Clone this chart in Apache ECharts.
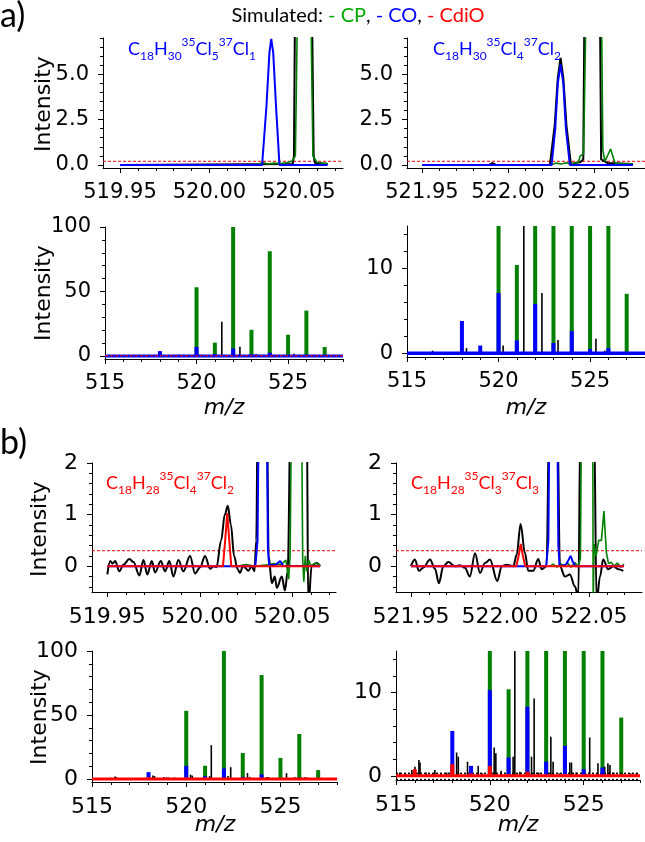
<!DOCTYPE html>
<html><head><meta charset="utf-8">
<script src="https://cdn.jsdelivr.net/npm/echarts@6/dist/echarts.min.js"></script>
<style>html,body{margin:0;padding:0;background:#fff}#c{width:645px;height:842px}</style>
</head><body><div id="c"></div>
<script>
// ---------- tick labels ----------
const xTopLeftMajor = [519.95, 520.00, 520.05];
const xTopLeftMinor = [519.95,519.96,519.97,519.98,519.99,520.00,520.01,520.02,520.03,520.04,520.05,520.06,520.07];
const xTopRightMajor = [521.95, 522.00, 522.05];
const xTopRightMinor = [521.95,521.96,521.97,521.98,521.99,522.00,522.01,522.02,522.03,522.04,522.05,522.06,522.07];
const xBottomMajor = [515, 520, 525];
const xBottomMinor = [515,516,517,518,519,520,521,522,523,524,525,526,527,528];
const yTopAMajor = [0, 2.5, 5];
const yTopAMinor = [0,0.5,1,1.5,2,2.5,3,3.5,4,4.5,5,5.5,6,6.5,7];
const yTopBMajor = [0, 1, 2];
const yTopBMinor = [-0.4,-0.2,0,0.2,0.4,0.6,0.8,1,1.2,1.4,1.6,1.8,2];
const yFullMajor = [0, 50, 100];
const yFullMinor = [0,10,20,30,40,50,60,70,80,90,100];
const yZoomMajor = [0, 10];
const yZoomMinor = [0,2,4,6,8,10,12,14];

// ---------- thresholds ----------
const thresholdA = 0.2;
const thresholdB = 0.3;
const noiseBandB = [0.3, -0.45];

// ---------- a) profile traces, window 519.95-520.07 (m/z, intensity) ----------
const aL_measured = [[519.95,0],[520.0465,0.05],[520.0472,0.5],[520.0477,7.5],[520.0525,55],[520.0574,7.5],[520.0582,0.5],[520.059,0.1],[520.066,0.05]];
const aL_CP = [[520.027,0.05],[520.03,0.12],[520.033,0.05],[520.036,0.1],[520.04,0.08],[520.043,0.12],[520.046,0.2],[520.048,0.5],[520.049,7.5],[520.0525,53],[520.0568,7.5],[520.0578,0.5],[520.06,0.15],[520.063,0.1],[520.066,0.08]];
const aL_CO = [[519.95,0],[520.0294,0],[520.0318,3.2],[520.0335,6.2],[520.0345,6.95],[520.0356,6.2],[520.0372,3.2],[520.0391,0],[520.066,0]];

// ---------- a) profile traces, window 521.95-522.07 ----------
const aR_measured = [[521.95,0],[521.989,0],[521.991,0.1],[521.993,0],[522.0244,0],[522.0272,2.2],[522.029,4.8],[522.0306,5.9],[522.0322,4.8],[522.034,2.2],[522.0366,0.05],[522.039,0.1],[522.042,0.15],[522.0438,0.3],[522.0444,7.5],[522.049,100],[522.0536,7.5],[522.0542,0.3],[522.058,0.1],[522.0727,0.05]];
const aR_CP = [[522.025,0],[522.028,0.1],[522.031,0.05],[522.034,0.12],[522.037,0.03],[522.039,0.12],[522.041,0.15],[522.042,0.5],[522.044,0.6],[522.0452,7.5],[522.049,100],[522.0545,7.5],[522.0552,0.8],[522.0564,0.2],[522.0597,0.88],[522.0622,0.1],[522.065,0.08],[522.0727,0.05]];
const aR_CO = [[521.95,0],[522.0254,0],[522.0275,2.0],[522.029,4.5],[522.0306,5.55],[522.0322,4.5],[522.0337,2.0],[522.036,0],[522.0727,0]];

// ---------- a) stick spectra ----------
const cpMz = [520, 521, 522, 523, 524, 525, 526, 527];
const cpInt = [53.3, 10.4, 100, 20.3, 81.2, 16.5, 35.2, 7.0];
const aCoMz = [518, 519, 520, 521, 522, 523, 524, 525, 526];
const aCoInt = [3.8, 0.9, 7.1, 1.5, 5.8, 1.2, 2.6, 0.5, 0.6];
const aMeasMz = [516.4, 518.25, 520.25, 521.38, 522.37, 523.25, 525.32, 525.8];
const aMeasInt = [0.3, 0.6, 0.9, 26.5, 7.1, 1.55, 1.7, 0.3];

// ---------- b) profile traces, window 519.95-520.07 ----------
const bL_measured = [[519.95,-0.16],[519.9515,0.10],[519.9529,0.05],[519.9542,0.10],[519.9565,-0.10],[519.9587,0.03],[519.9619,0.14],[519.9641,0.08],[519.9673,-0.18],[519.9695,0.12],[519.9716,-0.16],[519.974,0.10],[519.9758,-0.12],[519.9789,0.10],[519.9812,-0.10],[519.9835,0.10],[519.9857,-0.20],[519.9884,0.12],[519.9911,-0.10],[519.9947,0.20],[519.9974,-0.14],[520.0002,-0.02],[520.0028,0.20],[520.0055,-0.05],[520.0075,0.0],[520.009,-0.02],[520.0115,0.5],[520.0135,1.0],[520.0151,1.17],[520.0168,0.8],[520.0185,0.2],[520.0203,-0.05],[520.0217,-0.13],[520.0235,0.02],[520.0244,-0.03],[520.0262,-0.09],[520.028,0.0],[520.0295,-0.1],[520.0305,0.5],[520.0313,3],[520.034,8],[520.0362,3],[520.0372,0.2],[520.0389,-0.33],[520.0405,-0.2],[520.0416,-0.42],[520.0443,-0.2],[520.046,-0.47],[520.0475,-0.1],[520.0491,3],[520.0525,55],[520.0578,3],[520.0586,-0.8],[520.0605,0.02],[520.0632,0.06],[520.065,0.0]];
const bL_CP = [[520.02,0.0],[520.025,0.03],[520.03,0.0],[520.035,0.02],[520.04,0.05],[520.044,0.03],[520.0465,0.12],[520.048,-0.25],[520.0488,0.2],[520.0495,3],[520.0523,53],[520.055,3],[520.0556,0.15],[520.0562,-0.3],[520.057,0.2],[520.0578,-0.1],[520.0588,0.12],[520.06,0.0],[520.0625,0.06],[520.065,0.02]];
const bL_CO = [[519.95,0],[520.03,0],[520.0312,0.5],[520.0318,3],[520.034,7],[520.0362,3],[520.0368,0.3],[520.0375,0.02],[520.041,0.03],[520.0434,0.1],[520.045,0.01],[520.065,0]];
const bL_CdiO = [[519.95,0],[520.0125,0],[520.0137,0.5],[520.0148,1.03],[520.0159,0.5],[520.017,0],[520.065,0]];

// ---------- b) profile traces, window 521.95-522.07 ----------
const bR_measured = [[521.95,0.0],[521.9522,0.13],[521.9545,-0.09],[521.9569,-0.03],[521.9607,0.13],[521.9635,-0.05],[521.9657,-0.33],[521.9682,0.0],[521.971,0.08],[521.9747,0.0],[521.9775,0.02],[521.9803,-0.03],[521.9831,-0.2],[521.986,0.25],[521.9888,-0.13],[521.9916,0.06],[521.9944,0.13],[521.9985,-0.29],[522.001,0.0],[522.0038,0.03],[522.0075,0.0],[522.0094,0.22],[522.0116,0.82],[522.014,0.26],[522.0159,-0.09],[522.0187,-0.09],[522.0215,0.14],[522.0234,-0.06],[522.0262,0.0],[522.0277,3],[522.03,6],[522.0322,3],[522.0337,0.0],[522.0365,-0.2],[522.0393,-0.16],[522.0421,-0.39],[522.044,-0.6],[522.0453,3],[522.049,100],[522.0528,3],[522.0543,-0.7],[522.0562,-0.2],[522.058,0.13],[522.0608,-0.06],[522.0637,0.0],[522.0665,-0.06],[522.0693,-0.09]];
const bR_CP = [[522.028,0],[522.03,0.04],[522.032,-0.02],[522.034,0.05],[522.036,0.0],[522.038,0.06],[522.04,-0.02],[522.042,0.07],[522.044,0.0],[522.0452,0.15],[522.0458,3],[522.049,100],[522.0521,3],[522.0524,-0.7],[522.0529,0.43],[522.054,0.2],[522.0555,0.5],[522.057,0.5],[522.0584,1.07],[522.0598,0.26],[522.061,0.05],[522.0625,0.08],[522.064,0.0],[522.066,0.06],[522.068,-0.02],[522.0697,0.04]];
const bR_CO = [[521.95,0],[522.026,0],[522.0272,0.5],[522.0278,3],[522.03,5.7],[522.0322,3],[522.0328,0.4],[522.0335,0.0],[522.037,0.03],[522.0385,0.12],[522.0397,0.2],[522.041,0.08],[522.0425,0.0],[522.0697,0]];
const bR_CdiO = [[521.95,0],[522.0092,0],[522.0105,0.2],[522.0117,0.43],[522.0129,0.2],[522.0142,0],[522.0697,0]];

// ---------- b) stick spectra ----------
const bCoMz = [518, 519, 520, 521, 522, 523, 524, 525, 526];
const bCoInt = [5.4, 1.2, 10.3, 2.2, 8.3, 1.7, 3.6, 0.8, 1.0];
const bCdiOMz = [516, 517, 518, 519, 520, 521, 522, 523, 524];
const bCdiOInt = [0.8, 0.2, 1.4, 0.3, 1.2, 0.2, 0.5, 0.1, 0.2];
const bMeasMz = [515.2, 515.5, 515.84, 516.01, 516.22, 516.28, 516.6, 517.07, 517.4, 517.7, 518.23, 518.32, 518.81, 519.38, 519.6, 520.23, 520.32, 520.6, 521.24, 521.33, 521.6, 522.22, 522.36, 522.6, 523.25, 523.37, 523.7, 524.26, 524.35, 524.6, 525.1, 525.32, 525.76, 526.12, 526.29, 526.4, 526.6, 527.0, 527.5, 527.8];
const bMeasInt = [0.4, 0.3, 0.7, 1.1, 1.9, 1.6, 0.4, 0.7, 0.3, 0.4, 2.8, 2.3, 1.7, 1.2, 0.3, 3.4, 2.7, 0.6, 2.3, 26.5, 0.5, 2.3, 9.3, 0.4, 4.7, 1.7, 0.3, 1.6, 1.6, 0.4, 0.3, 4.6, 1.5, 1.1, 1.5, 1.3, 0.4, 0.3, 0.3, 0.3];

// ---------- colours ----------
const GREEN = '#008000', BLUE = '#0000ff', RED = '#ff0000', BLACK = '#000000';
const TICK_FONT = 'DejaVu Sans';

// ---------- layout ----------
const grids = [
  {left:103, top:38,  width:240, height:130},  // a top-left
  {left:407, top:38,  width:238, height:130},  // a top-right
  {left:105, top:227, width:238, height:132},  // a bottom-left
  {left:407, top:226, width:238, height:131},  // a bottom-right
  {left:92,  top:463, width:244, height:129},  // b top-left
  {left:396, top:463, width:246, height:129},  // b top-right
  {left:92,  top:651, width:245, height:131},  // b bottom-left
  {left:396, top:651, width:244, height:129}   // b bottom-right
];
const axisDefs = [
  {x:[519.9405,520.0746], y:[-0.17,7],   xMaj:xTopLeftMajor,  xMin:xTopLeftMinor,  yMaj:yTopAMajor, yMin:yTopAMinor, xf:v=>v.toFixed(2), yf:v=>v.toFixed(1), fs:21},
  {x:[521.9413,522.0797], y:[-0.17,7],   xMaj:xTopRightMajor, xMin:xTopRightMinor, yMaj:yTopAMajor, yMin:yTopAMinor, xf:v=>v.toFixed(2), yf:v=>v.toFixed(1), fs:21},
  {x:[515,528],           y:[-2.3,100],  xMaj:xBottomMajor,   xMin:xBottomMinor,   yMaj:yFullMajor, yMin:yFullMinor, xf:v=>String(v), yf:v=>String(v), fs:21},
  {x:[515,528],           y:[-0.45,15],  xMaj:xBottomMajor,   xMin:xBottomMinor,   yMaj:yZoomMajor, yMin:yZoomMinor, xf:v=>String(v), yf:v=>String(v), fs:21},
  {x:[519.9417,520.0736], y:[-0.5,2],    xMaj:xTopLeftMajor,  xMin:xTopLeftMinor,  yMaj:yTopBMajor, yMin:yTopBMinor, xf:v=>v.toFixed(2), yf:v=>String(v), fs:22},
  {x:[521.9416,522.0798], y:[-0.5,2],    xMaj:xTopRightMajor, xMin:xTopRightMinor, yMaj:yTopBMajor, yMin:yTopBMinor, xf:v=>v.toFixed(2), yf:v=>String(v), fs:22},
  {x:[515,528],           y:[-2.3,100],  xMaj:xBottomMajor,   xMin:xBottomMinor,   yMaj:yFullMajor, yMin:yFullMinor, xf:v=>String(v), yf:v=>String(v), fs:22},
  {x:[515,528],           y:[-0.5,15],   xMaj:xBottomMajor,   xMin:xBottomMinor,   yMaj:yZoomMajor, yMin:yZoomMinor, xf:v=>String(v), yf:v=>String(v), fs:22}
];

const xAxes = [], yAxes = [];
axisDefs.forEach((d, g) => {
  const lineStyle = {color:'#000', width:1};
  xAxes.push({
    type:'value', gridIndex:g, position:'bottom', min:d.x[0], max:d.x[1], scale:true,
    axisLine:{show:true, onZero:false, lineStyle},
    axisTick:{show:true, inside:false, length:5, customValues:d.xMaj, lineStyle},
    axisLabel:{show:true, customValues:d.xMaj, formatter:d.xf, margin:14, color:'#000', fontSize:d.fs, fontFamily:TICK_FONT},
    splitLine:{show:false}
  });
  xAxes.push({
    type:'value', gridIndex:g, position:'bottom', min:d.x[0], max:d.x[1], scale:true,
    axisLine:{show:false, onZero:false},
    axisTick:{show:true, inside:false, length:3, customValues:d.xMin, lineStyle},
    axisLabel:{show:false}, splitLine:{show:false}
  });
  yAxes.push({
    type:'value', gridIndex:g, position:'left', min:d.y[0], max:d.y[1], scale:true,
    axisLine:{show:true, onZero:false, lineStyle},
    axisTick:{show:true, inside:false, length:5, customValues:d.yMaj, lineStyle},
    axisLabel:{show:true, customValues:d.yMaj, formatter:d.yf, margin:14, color:'#000', fontSize:d.fs, fontFamily:TICK_FONT},
    splitLine:{show:false}
  });
  yAxes.push({
    type:'value', gridIndex:g, position:'left', min:d.y[0], max:d.y[1], scale:true,
    axisLine:{show:false, onZero:false},
    axisTick:{show:true, inside:false, length:3, customValues:d.yMin, lineStyle},
    axisLabel:{show:false}, splitLine:{show:false}
  });
});

// Horizontal reference lines spanning the whole panel at given intensities.
function hRule(g, values, color, dashArr, width) {
  const x0 = axisDefs[g].x[0];
  return {type:'custom', xAxisIndex:2*g, yAxisIndex:2*g, silent:true, animation:false,
    itemStyle:{color:color},
    data: values.map(v => [x0, v]),
    renderItem: function (params, api) {
      const cs = params.coordSys;
      const py = api.coord([api.value(0), api.value(1)])[1];
      return {type:'line', shape:{x1:cs.x, y1:py, x2:cs.x + cs.width, y2:py},
        style:{stroke:color, lineWidth:width, lineDash:dashArr, fill:null}};
    }};
}
function trace(g, pts, color, width, extra) {
  return Object.assign({type:'line', xAxisIndex:2*g, yAxisIndex:2*g, data:pts, showSymbol:false, symbol:'none',
    silent:true, clip:true, animation:false, itemStyle:{color:color}, lineStyle:{color:color, width:width}}, extra || {});
}
function sticks(g, mz, inten, color, width) {
  return {type:'custom', xAxisIndex:2*g, yAxisIndex:2*g, silent:true, clip:true, animation:false,
    itemStyle:{color:color},
    data: mz.map((m, i) => [m, inten[i]]),
    renderItem: function (params, api) {
      const x = api.value(0), y = api.value(1);
      const p0 = api.coord([x, 0]);
      const p1 = api.coord([x, y]);
      const cs = params.coordSys;
      const top = Math.max(p1[1], cs.y);
      return {type:'line', shape:{x1:p0[0], y1:p0[1], x2:p0[0], y2:top},
        style:{stroke:color, lineWidth:width, lineCap:'butt'}};
    }};
}
const smoothNoise = {smooth:0.35, smoothMonotone:'x'};
const dash = [3, 2];

const series = [
  // a top-left
  trace(0, aL_measured, BLACK, 2),
  trace(0, aL_CP, GREEN, 1.6),
  trace(0, aL_CO, BLUE, 2),
  hRule(0, [thresholdA], RED, dash, 1),
  // a top-right
  trace(1, aR_measured, BLACK, 2),
  trace(1, aR_CP, GREEN, 1.6),
  trace(1, aR_CO, BLUE, 2),
  hRule(1, [thresholdA], RED, dash, 1),
  // a bottom-left
  sticks(2, cpMz, cpInt, GREEN, 4),
  sticks(2, aMeasMz, aMeasInt, BLACK, 1.6),
  sticks(2, aCoMz, aCoInt, BLUE, 4),
  hRule(2, [0], BLUE, null, 3),
  hRule(2, [thresholdA], RED, dash, 1),
  // a bottom-right
  sticks(3, cpMz, cpInt, GREEN, 4),
  sticks(3, aMeasMz, aMeasInt, BLACK, 1.6),
  sticks(3, aCoMz, aCoInt, BLUE, 4),
  hRule(3, [0], BLUE, null, 3.5),
  // b top-left
  trace(4, bL_measured, BLACK, 2, smoothNoise),
  trace(4, bL_CP, GREEN, 1.6),
  trace(4, bL_CO, BLUE, 2),
  trace(4, bL_CdiO, RED, 2),
  hRule(4, [thresholdB], RED, dash, 1),
  // b top-right
  trace(5, bR_measured, BLACK, 2, smoothNoise),
  trace(5, bR_CP, GREEN, 1.6),
  trace(5, bR_CO, BLUE, 2),
  trace(5, bR_CdiO, RED, 2),
  hRule(5, [thresholdB], RED, dash, 1),
  // b bottom-left
  sticks(6, cpMz, cpInt, GREEN, 4),
  sticks(6, bMeasMz, bMeasInt, BLACK, 1.6),
  sticks(6, bCoMz, bCoInt, BLUE, 4),
  sticks(6, bCdiOMz, bCdiOInt, RED, 4),
  hRule(6, [0], RED, null, 3),
  // b bottom-right
  sticks(7, cpMz, cpInt, GREEN, 4),
  sticks(7, bMeasMz, bMeasInt, BLACK, 1.6),
  hRule(7, noiseBandB, BLACK, [2,2], 1.5),
  sticks(7, bCoMz, bCoInt, BLUE, 4),
  sticks(7, bCdiOMz, bCdiOInt, RED, 4),
  hRule(7, [0], RED, null, 3)
];

// ---------- texts ----------
function formula(x, y, colour, parts) {
  return {type:'text', x:x, y:y, z:100, style:{
    text:parts, align:'left', verticalAlign:'middle',
    rich:{
      m:{font:'18px Lato', fill:colour, lineHeight:26, verticalAlign:'middle'},
      s:{font:'12px Lato', fill:colour, lineHeight:12, verticalAlign:'bottom'},
      u:{font:'12px Lato', fill:colour, lineHeight:12, verticalAlign:'top'}
    }}};
}
function vLabel(x, y) {
  return {type:'text', x:x, y:y, rotation:Math.PI/2, z:100,
    style:{text:'Intensity', font:'22px "DejaVu Sans"', fill:'#000', align:'center', verticalAlign:'middle'}};
}
function mzLabel(x, y) {
  return {type:'text', x:x, y:y, z:100,
    style:{text:'m/z', font:'italic 22px "DejaVu Sans"', fill:'#000', align:'center', verticalAlign:'middle'}};
}
const graphics = [
  {type:'text', x:0, y:16, z:100, style:{text:'a)', font:'34px Lato', fill:'#000', align:'left', verticalAlign:'middle'}},
  {type:'text', x:0, y:443, z:100, style:{text:'b)', font:'34px Lato', fill:'#000', align:'left', verticalAlign:'middle'}},
  {type:'text', x:358, y:16, z:100, style:{
    text:'{k|Simulated: }{g|- CP}{k|, }{b|- CO}{k|, }{r|- CdiO}', align:'center', verticalAlign:'middle',
    rich:{k:{font:'20px Lato', fill:'#000'}, g:{font:'20px Lato', fill:'#00a800'},
          b:{font:'20px Lato', fill:BLUE}, r:{font:'20px Lato', fill:RED}}}},
  formula(128, 49, BLUE, '{m|C}{s|18}{m|H}{s|30}{u|35}{m|Cl}{s|5}{u|37}{m|Cl}{s|1}'),
  formula(433, 49, BLUE, '{m|C}{s|18}{m|H}{s|30}{u|35}{m|Cl}{s|4}{u|37}{m|Cl}{s|2}'),
  formula(106, 483, RED, '{m|C}{s|18}{m|H}{s|28}{u|35}{m|Cl}{s|4}{u|37}{m|Cl}{s|2}'),
  formula(411, 483, RED, '{m|C}{s|18}{m|H}{s|28}{u|35}{m|Cl}{s|3}{u|37}{m|Cl}{s|3}'),
  vLabel(44, 104), vLabel(44, 293), vLabel(40, 529), vLabel(40, 717),
  mzLabel(224, 408), mzLabel(526, 408), mzLabel(215, 825), mzLabel(518, 825)
];

const chart = echarts.init(document.getElementById('c'), null, {renderer:'canvas'});
chart.setOption({
  animation:false,
  backgroundColor:'#ffffff',
  grid: grids.map(g => Object.assign({containLabel:false, show:false}, g)),
  xAxis: xAxes, yAxis: yAxes,
  series: series,
  graphic: graphics
});
</script></body></html>
